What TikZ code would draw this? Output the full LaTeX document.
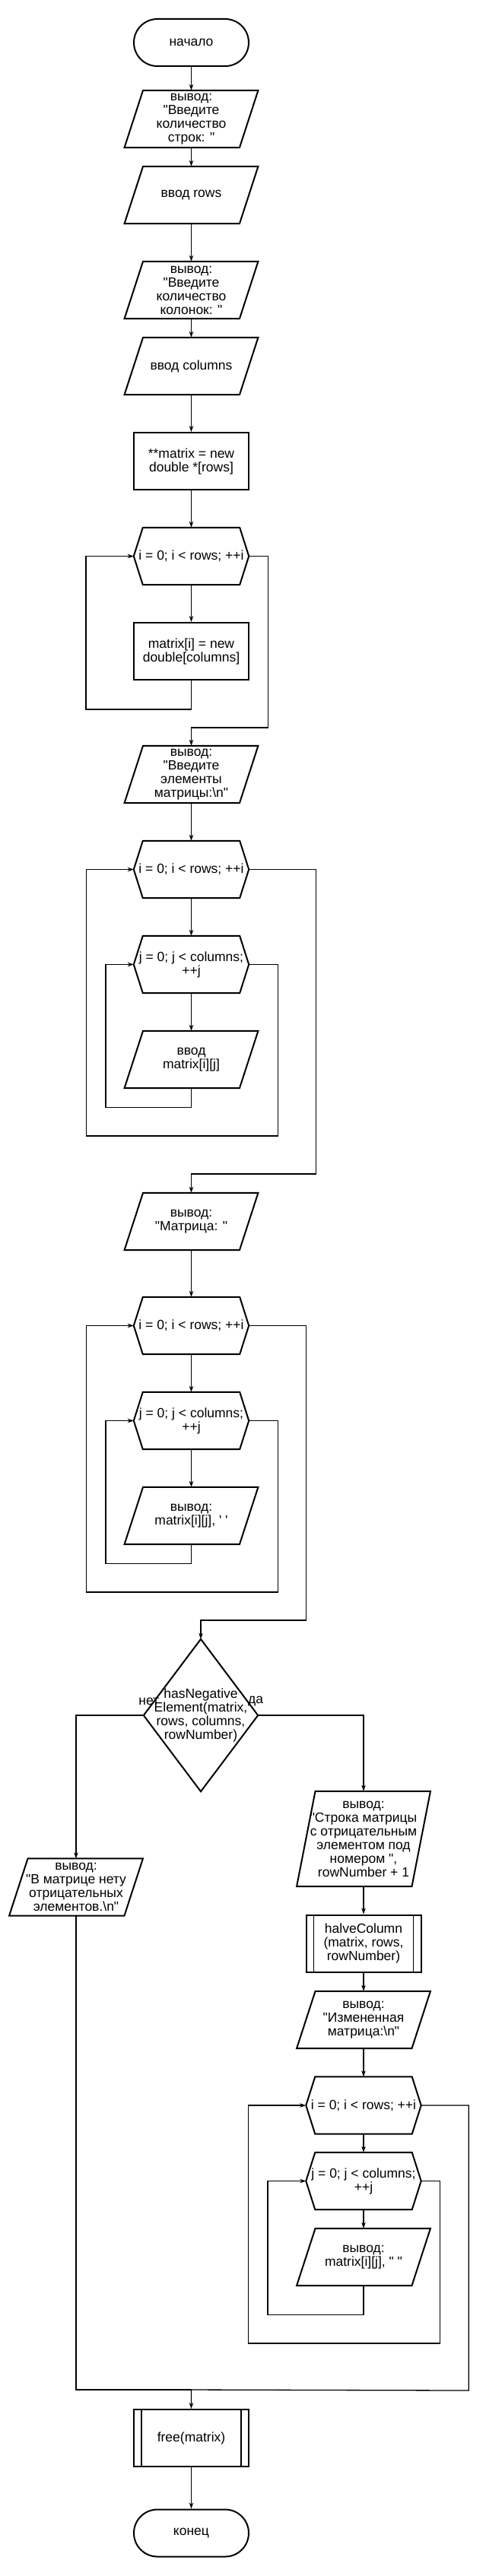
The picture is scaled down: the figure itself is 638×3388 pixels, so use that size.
\documentclass[tikz,border=0pt]{standalone}
\usepackage{fontspec}
\newfontfamily\drawfont{Liberation Sans}
\usetikzlibrary{arrows.meta}

\begin{document}
\begin{tikzpicture}[x=1pt, y=1pt, node distance=125pt,
font=\drawfont\fontsize{17.5}{18}\selectfont,
term/.style={rectangle, rounded corners=31pt, draw, line width=2pt, minimum width=151pt, minimum height=62pt, inner sep=0pt, align=center},
proc/.style={rectangle, draw, line width=2pt, minimum width=151pt, minimum height=75pt, inner sep=0pt, align=center},
sub/.style={proc, path picture={
  \draw[line width=1.2pt] ([xshift=10pt]path picture bounding box.north west) -- ([xshift=10pt]path picture bounding box.south west);
  \draw[line width=1.2pt] ([xshift=-10pt]path picture bounding box.north east) -- ([xshift=-10pt]path picture bounding box.south east);}},
io/.style={rectangle, minimum width=151pt, minimum height=75pt, inner sep=0pt, align=center},
hexa/.style={io},
cond/.style={rectangle, minimum width=150pt, minimum height=200pt, inner sep=0pt, align=center},
shapeline/.style={line width=2pt, line join=miter},
conn/.style={line width=1.3pt},
arr/.style={conn, -{Stealth[length=8pt,width=5.5pt]}}
]
\useasboundingbox (0,0) rectangle (638,-3388);
%Nodes
\node[term]  (start) at (251.5,-56)                               {начало};
\node[io]    (outRows)    [below of=start, yshift=24.5pt]         {вывод:\\"Введите\\количество\\строк: "};
\node[io]    (inRows)     [below of=outRows, yshift=25pt]         {ввод rows};
\node[io]    (outCols)    [below of=inRows]                       {вывод:\\"Введите\\количество\\колонок: "};
\node[io]    (inCols)     [below of=outCols, yshift=25pt]         {ввод columns};
\node[proc]  (alloc)      [below of=inCols]                       {**matrix = new\\double *[rows]};
\node[hexa]  (loopA)      [below of=alloc]                        {i = 0; i < rows; ++i};
\node[proc]  (allocRow)   [below of=loopA]                        {matrix[i] = new\\double[columns]};
\node[io]    (outElems)   [below of=allocRow, yshift=-37pt]       {вывод:\\"Введите\\элементы\\матрицы:\textbackslash n"};
\node[hexa]  (loopB)      [below of=outElems]                     {i = 0; i < rows; ++i};
\node[hexa]  (loopBj)     [below of=loopB]                        {j = 0; j < columns;\\++j};
\node[io]    (inElem)     [below of=loopBj]                       {ввод\\matrix[i][j]};
\node[io]    (outMat)     [below of=inElem, yshift=-88pt]         {вывод:\\"Матрица: "};
\node[hexa]  (loopC)      [below of=outMat, yshift=-12pt]         {i = 0; i < rows; ++i};
\node[hexa]  (loopCj)     [below of=loopC]                        {j = 0; j < columns;\\++j};
\node[io]    (outElem)    [below of=loopCj]                       {вывод:\\matrix[i][j], ' '};
\node[cond]  (cond)       [below of=outElem, xshift=12.5pt, yshift=-137.5pt] {hasNegative\\Element(matrix,\\rows, columns,\\rowNumber)};
\node[io]    (outNone)    [below of=cond, xshift=-164pt, yshift=-101pt] {вывод:\\"В матрице нету\\отрицательных\\элементов.\textbackslash n"};
\node[io, minimum height=125pt] (outRow) [below of=cond, xshift=214pt, yshift=-37.5pt] {вывод:\\"Строка матрицы\\с отрицательным\\элементом под\\номером ",\\rowNumber + 1};
\node[sub]   (halve)      [below of=outRow, yshift=-12.5pt]       {halveColumn\\(matrix, rows,\\rowNumber)};
\node[io]    (outChanged) [below of=halve, yshift=24.5pt]         {вывод:\\"Измененная\\матрица:\textbackslash n"};
\node[hexa]  (loopD)      [below of=outChanged, yshift=12.5pt]    {i = 0; i < rows; ++i};
\node[hexa]  (loopDj)     [below of=loopD, yshift=25.5pt]         {j = 0; j < columns;\\++j};
\node[io]    (outElem2)   [below of=loopDj, yshift=25pt]          {вывод:\\matrix[i][j], " "};
\node[sub]   (free)       [below of=cond, xshift=-12.5pt, yshift=-825.5pt] {free(matrix)};
\node[term]  (stop)       [below of=free]                         {конец};
\node        (no)   at ([xshift=7pt, yshift=18pt]cond.west)       {нет};
\node        (yes)  at ([xshift=-3pt, yshift=18pt]cond.east)      {да};
\coordinate  (merge) at ([yshift=25pt]free.north);
%Shapes
\foreach \n in {outRows,inRows,outCols,inCols,outElems,inElem,outMat,outElem,outNone,outRow,outChanged,outElem2}
  \draw[shapeline] ([xshift=12.25pt]\n.north west) -- ([xshift=12.25pt]\n.north east) -- ([xshift=-12.25pt]\n.south east) -- ([xshift=-12.25pt]\n.south west) -- cycle;
\foreach \n in {loopA,loopB,loopBj,loopC,loopCj,loopD,loopDj}
  \draw[shapeline] (\n.west) -- ([xshift=12pt]\n.north west) -- ([xshift=-12pt]\n.north east) -- (\n.east) -- ([xshift=-12pt]\n.south east) -- ([xshift=12pt]\n.south west) -- cycle;
\draw[shapeline] (cond.north) -- (cond.east) -- (cond.south) -- (cond.west) -- cycle;
%Lines
\draw[arr] (start) -- (outRows);
\draw[arr] (outRows) -- (inRows);
\draw[arr] (inRows) -- (outCols);
\draw[arr] (outCols) -- (inCols);
\draw[arr] (inCols) -- (alloc);
\draw[arr] (alloc) -- (loopA);
\draw[arr] (loopA) -- (allocRow);
\draw[arr] (allocRow.south) |- ++(-138.5,-38) |- (loopA.west);
\draw[arr] (loopA.east) -| ++(25,-225.5) -| (outElems.north);
\draw[arr] (outElems) -- (loopB);
\draw[arr] (loopB) -- (loopBj);
\draw[arr] (loopBj) -- (inElem);
\draw[arr] (inElem.south) |- ++(-112.5,-25) |- (loopBj.west);
\draw[arr] (loopBj.east) -- ++(38,0) |- ++(-252,-225.5) |- (loopB.west);
\draw[arr] (loopB.east) -| ++(88,-400.5) -| (outMat.north);
\draw[arr] (outMat) -- (loopC);
\draw[arr] (loopC) -- (loopCj);
\draw[arr] (loopCj) -- (outElem);
\draw[arr] (outElem.south) |- ++(-112.5,-25) |- (loopCj.west);
\draw[arr] (loopCj.east) -- ++(38,0) |- ++(-252,-225.5) |- (loopC.west);
\draw[arr] (loopC.east) -| ++(75,-387.5) -| (cond.north);
\draw[arr] (cond.west) -| (outNone.north);
\draw[arr] (cond.east) -| (outRow.north);
\draw[arr] (outRow) -- (halve);
\draw[arr] (halve) -- (outChanged);
\draw[arr] (outChanged) -- (loopD);
\draw[arr] (loopD) -- (loopDj);
\draw[arr] (loopDj) -- (outElem2);
\draw[arr] (outElem2.south) |- ++(-126,-38) |- (loopDj.west);
\draw[arr] (loopDj.east) -- ++(25,0) |- ++(-252,-213.5) |- (loopD.west);
\draw[arr] (loopD.east) -| ++(62.5,-375) -- (merge) -- (free.north);
\draw[conn] (outNone.south) |- (merge);
\draw[arr] (free) -- (stop);
\end{tikzpicture}
\end{document}
